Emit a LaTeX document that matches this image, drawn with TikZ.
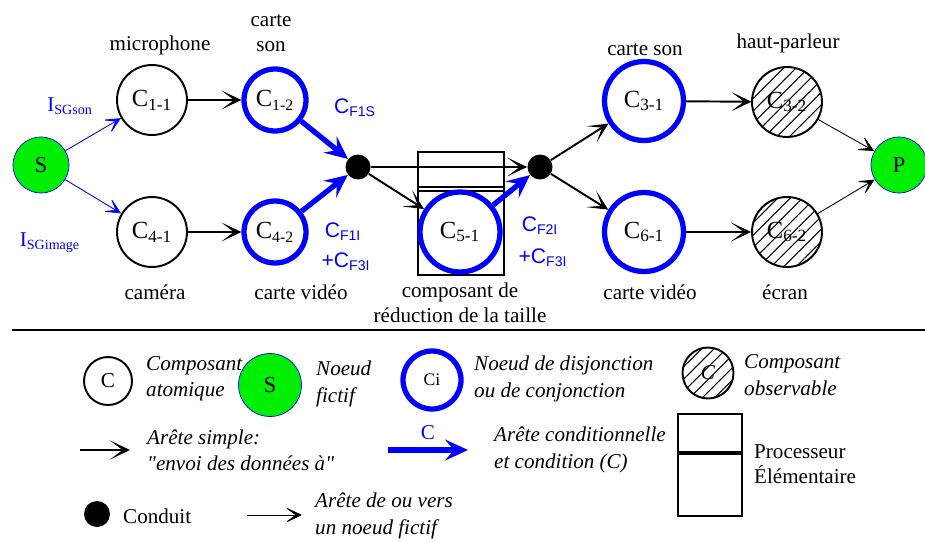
\documentclass[tikz,border=0pt]{standalone}
\usepackage{fontspec}
\setmainfont{Liberation Serif}
\setsansfont{Liberation Sans}
\usetikzlibrary{arrows.meta, positioning, patterns.meta}
\definecolor{cblue}{HTML}{0000FF}
\definecolor{cgreen}{HTML}{00EE00}
\tikzset{
  every picture/.style={font=\fontsize{12}{14}\selectfont},
  atom/.style={circle, draw, line width=1.1pt, minimum size=1.4cm, inner sep=0pt, font=\fontsize{14}{16}\selectfont},
  disj/.style={circle, draw=cblue, line width=3pt, minimum size=#1, inner sep=0pt, font=\fontsize{14}{16}\selectfont},
  disj/.default=1.24cm,
  obs/.style={circle, draw, line width=1.1pt, minimum size=1.4cm, inner sep=0pt, font=\fontsize{14}{16}\selectfont,
    pattern={Lines[angle=45, distance=5pt, line width=0.6pt]}},
  fict/.style={circle, draw=cblue, fill=cgreen, line width=0.4pt, minimum size=1.12cm, inner sep=0pt, font=\fontsize{13}{15}\selectfont},
  dot/.style={circle, fill, minimum size=0.5cm, inner sep=0pt},
  arr/.style={-{Stealth[length=4mm, width=3.8mm, inset=2.5mm]}, line width=1.1pt},
  carr/.style={-{Stealth[length=4.6mm, width=4.2mm, inset=1.8mm]}, draw=cblue, line width=3pt},
  farr/.style={-{Stealth[length=3.8mm, width=3.6mm, inset=2.5mm]}, line width=0.5pt},
  cond/.style={font=\sffamily\fontsize{12}{14}\selectfont, text=cblue},
  note/.style={font=\itshape\fontsize{12}{15}\selectfont, align=left, anchor=west},
}

\begin{document}
\begin{tikzpicture}[x=0.02cm, y=-0.02cm]
  \useasboundingbox (0,0) rectangle (925,541);
  % source and sink
  \node[fict] (S) at (41,165) {S};
  \node[fict] (P) at (899,165) {P};
  % sound branch
  \node[atom] (c11) at (152,100) {C\textsubscript{1-1}};
  \node[disj] (c12) at (275,100) {C\textsubscript{\fontsize{9}{10}\selectfont 1-2}};
  \node[disj=1.58cm] (c31) at (644,101) {C\textsubscript{3-1}};
  \node[obs] (c32) at (787,102) {C\textsubscript{3-2}};
  % image branch
  \node[atom] (c41) at (152,232) {C\textsubscript{4-1}};
  \node[disj] (c42) at (275,232) {C\textsubscript{\fontsize{9}{10}\selectfont 4-2}};
  \node[disj=1.58cm] (c61) at (644,232) {C\textsubscript{6-1}};
  \node[obs] (c62) at (787,232) {C\textsubscript{6-2}};
  % conduits
  \node[dot] (j1) at (358,167) {};
  \node[dot] (j2) at (540,167) {};
  % reduction processor
  \draw[line width=1.3pt] (418,152) rectangle (504,275);
  \draw[line width=1.3pt] (418,187) -- (504,187) (418,191) -- (504,191);
  \node[disj=1.6cm] (c51) at (460,232) {C\textsubscript{5-1}};
  % labels
  \node (lmic) at (160,45) {microphone};
  \node[align=center] (lcs) at (271,33) {carte\\son};
  \node (lcam) at (155,292) {caméra};
  \node (lcv) at (301,292) {carte vidéo};
  \node[align=center] (lred) at (460,303) {composant de\\réduction de la taille};
  \node (lcs2) at (645,50) {carte son};
  \node (lcv2) at (650,292) {carte vidéo};
  \node (lhp) at (788,43) {haut-parleur};
  \node (lecr) at (785,292) {écran};
  \node[text=cblue] (lson) at (70,106) {I\textsubscript{SGson}};
  \node[text=cblue] (limg) at (50,243) {I\textsubscript{SGimage}};
  \node[cond] (lf0) at (355,108) {C\textsubscript{F1S}};
  \node[cond] (lf1) at (343,232) {C\textsubscript{F1I}};
  \node[cond] (lf3) at (346,262) {+C\textsubscript{F3I}};
  \node[cond] (lf2) at (540,226) {C\textsubscript{F2I}};
  \node[cond] (lf4) at (543,258) {+C\textsubscript{F3I}};
  % edges
  \draw[farr, cblue] (S) -- (c11);
  \draw[farr, cblue] (S) -- (c41);
  \draw[arr] (c11) -- (c12);
  \draw[arr] (c41) -- (c42);
  \draw[carr] (c12) -- (j1);
  \draw[carr] (c42) -- (j1);
  \draw[arr] (j1) -- (j2);
  \draw[arr] (j1) -- (c51);
  \draw[carr] (c51) -- (j2);
  \draw[arr] (j2) -- (c31);
  \draw[arr] (j2) -- (c61);
  \draw[arr] (c31) -- (c32);
  \draw[arr] (c61) -- (c62);
  \draw[farr] (c32) -- (P);
  \draw[farr] (c62) -- (P);
  % separator
  \coordinate (sepl) at (12,330);
  \coordinate (sepr) at (925,330);
  \draw[line width=0.9pt] (sepl) -- (sepr);
  % legend
  \node[atom, minimum size=0.96cm, font=\fontsize{12}{14}\selectfont] (kc) at (108,381) {C};
  \node[note] (tc) at (140,379) {Composant\\atomique};
  \node[fict, minimum size=1.26cm] (ks) at (270,385) {S};
  \node[note] (ts) at (310,384) {Noeud\\fictif};
  \node[disj=1.16cm, font=\fontsize{10}{12}\selectfont] (kci) at (432,380) {Ci};
  \node[note] (tci) at (468,379) {Noeud de disjonction\\ou de conjonction};
  \node[obs, minimum size=1.02cm, font=\itshape\fontsize{12}{14}\selectfont] (kobs) at (708,373) {C};
  \node[note] (tobs) at (738,375) {Composant\\observable};
  \coordinate (ka1) at (80,450);
  \coordinate (ka2) at (130,450);
  \draw[arr] (ka1) -- (ka2);
  \node[note] (ta) at (141,450) {Arête simple:\\\textquotedbl envoi des données à\textquotedbl};
  \coordinate (kb1) at (388,450);
  \coordinate (kb2) at (468,450);
  \draw[carr] (kb1) -- node[above=1pt, text=cblue] {C} (kb2);
  \node[note] (tb) at (488,450) {Arête conditionnelle\\et condition (\textit{C})};
  \draw[line width=1.3pt] (678,414) rectangle (742,516);
  \draw[line width=1.3pt] (678,452) -- (742,452) (678,454) -- (742,454);
  \node[align=left, anchor=west] (tp) at (748,464) {Processeur\\Élémentaire};
  \node[dot, minimum size=0.52cm] (kd) at (97,514) {};
  \node[anchor=west] (td) at (117,516) {Conduit};
  \coordinate (kf1) at (247,515);
  \coordinate (kf2) at (302,515);
  \draw[farr] (kf1) -- (kf2);
  \node[note] (tf) at (309,516) {Arête de ou vers\\un noeud fictif};
\end{tikzpicture}
\end{document}
